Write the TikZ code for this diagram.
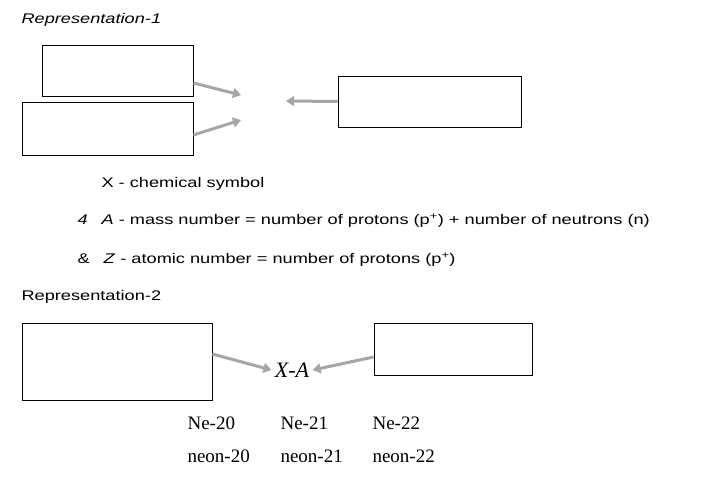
\documentclass[tikz,border=0pt]{standalone}
\usepackage{fontspec}
\setmainfont{Liberation Serif}
\setsansfont{Liberation Sans}
\newfontfamily\widesans{Liberation Sans}[FakeStretch=1.3]
\usetikzlibrary{arrows.meta,positioning}

\begin{document}
\begin{tikzpicture}[x=1pt,y=-1pt,
                    box/.style={draw=black, thick, inner sep=0pt},
                    grayarrow/.style={line width=3pt, gray!70, -{Triangle[length=8pt,width=10pt]}},
                    note/.style={anchor=west, font=\widesans\fontsize{14}{16}\selectfont},
                    iso/.style={anchor=west, font=\fontsize{19}{22}\selectfont},
                   ]
\useasboundingbox (0,0) rectangle (705,497);

% Representation-1
\node[note, font=\widesans\itshape\fontsize{14}{16}\selectfont] (rep1) at (18,20) {Representation-1};

\node[box, minimum width=151pt, minimum height=51pt] (upper) at (117.5,70.5) {};
\node[box, minimum width=171pt, minimum height=53pt] (lower) at (107.5,128.5) {};
\node[box, minimum width=183pt, minimum height=51pt] (right) at (429.5,101.5) {};

\coordinate (tipA) at (241,95);
\coordinate (tipB) at (241,120);
\coordinate (tipC) at (286,101);
\draw[grayarrow] (upper.east |- 0,83) -- (tipA);
\draw[grayarrow] (lower.east |- 0,135) -- (tipB);
\draw[grayarrow] (right.west) -- (tipC);

\node[note] (sym) at (98,184) {X - chemical symbol};
\node[note] (mass) at (74,221) {\textit{4}\quad\textit{A} - mass number = number of protons (p\textsuperscript{+}) + number of neutrons (n)};
\node[note] (atom) at (74,260) {\&\quad\textit{Z} - atomic number = number of protons (p\textsuperscript{+})};

% Representation-2
\node[note] (rep2) at (18,297) {Representation-2};

\node[box, minimum width=190pt, minimum height=77pt] (left2) at (117,361.5) {};
\node[box, minimum width=158pt, minimum height=52pt] (right2) at (453,349) {};
\node[font=\itshape\fontsize{22}{26}\selectfont] (xa) at (292,370) {X-A};

\draw[grayarrow] (left2.east |- 0,354) -- (xa.west);
\draw[grayarrow] (right2.west |- 0,357) -- (xa.east);

\node[iso] (ne20) at (184,423) {Ne-20};
\node[iso] (ne21) at (277,423) {Ne-21};
\node[iso] (ne22) at (369,423) {Ne-22};
\node[iso] (neon20) at (184,456) {neon-20};
\node[iso] (neon21) at (277,456) {neon-21};
\node[iso] (neon22) at (369,456) {neon-22};
\end{tikzpicture}
\end{document}
